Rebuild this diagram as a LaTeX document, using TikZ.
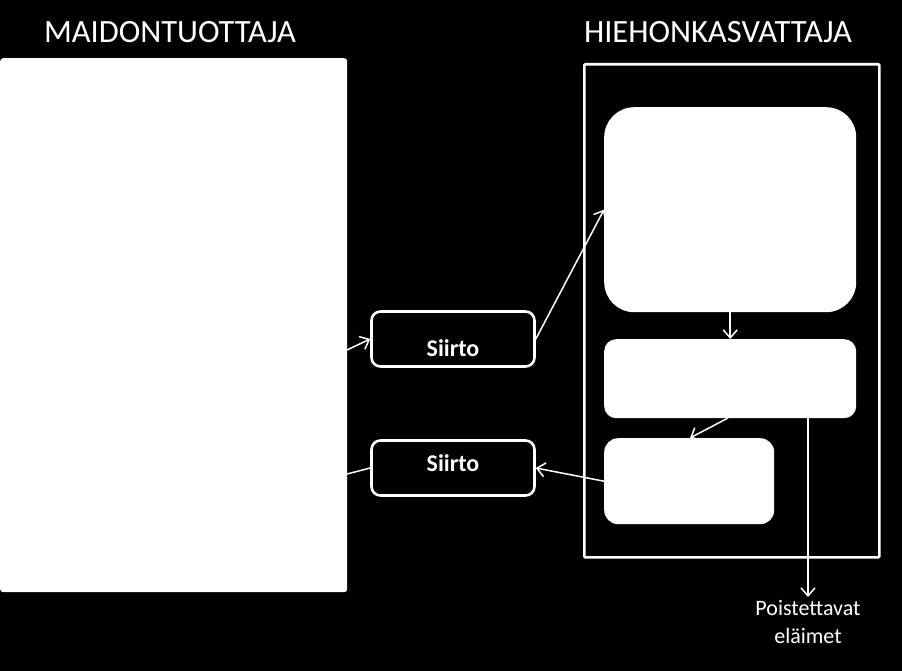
\documentclass[tikz,border=0pt]{standalone}
\usepackage{fontspec}
\setmainfont{Carlito}
\usetikzlibrary{positioning}
\usetikzlibrary{arrows.meta}

\tikzset{
  whitebox/.style={fill=white, draw=none, inner sep=0pt},
  siirtobox/.style={draw=white, line width=2.6pt, fill=black, rounded corners=9pt,
    minimum width=163pt, minimum height=55pt, inner sep=0pt},
  siirtoteksti/.style={text=white, font=\bfseries\fontsize{24}{28}\selectfont},
  flow/.style={draw=white, line width=1.5pt, -{Straight Barb[length=8pt,width=14pt,line width=1.5pt]}},
  title/.style={text=white, font=\fontsize{32.5}{36}\selectfont},
}

\begin{document}
\begin{tikzpicture}[x=1pt,y=-1pt]
\fill[black] (0,0) rectangle (902,671);
\useasboundingbox (0,0) rectangle (902,671);

% otsikot
\node[title] (maito) at (170,32) {MAIDONTUOTTAJA};
\node[title] (hieho) at (718,32) {HIEHONKASVATTAJA};

% maidontuottaja
\node[whitebox, rounded corners=3pt, minimum width=347pt, minimum height=534pt, anchor=north west] (mt) at (0,58) {};

% hiehonkasvattaja
\node[draw=white, line width=2.6pt, rounded corners=1pt, minimum width=295pt, minimum height=493pt, anchor=north west, inner sep=0pt] (hk) at (583,63) {};
\node[whitebox, rounded corners=30pt, minimum width=252pt, minimum height=205pt, anchor=north west] (iso) at (604,107) {};
\node[whitebox, rounded corners=12pt, minimum width=252pt, minimum height=79pt, anchor=north west] (keski) at (604,339) {};
\node[whitebox, rounded corners=14pt, minimum width=170pt, minimum height=86pt, anchor=north west] (pieni) at (604,438) {};

% siirrot
\node[siirtobox] (s1) at (453,339) {};
\node[siirtoteksti] (s1t) at (453,348) {Siirto};
\node[siirtobox] (s2) at (453,468) {};
\node[siirtoteksti] (s2t) at (453,463) {Siirto};

% poistettavat
\coordinate (pois) at (808,418);
\node[text=white, font=\fontsize{22}{28}\selectfont, align=center, anchor=north] (pt) at (808,597) {Poistettavat\\eläimet};

% nuolet
\draw[flow] (347,350) -- (s1.west);
\draw[flow] (s1.east) -- (iso.west);
\draw[flow] (iso.south) -- (keski.north);
\draw[flow] (728,418) -- (690,438);
\draw[flow] (pieni.west) -- (s2.east);
\draw[draw=white, line width=1.5pt] (s2.west) -- (347,474);
\draw[flow] (pois) -- (pt.north);
\end{tikzpicture}
\end{document}
